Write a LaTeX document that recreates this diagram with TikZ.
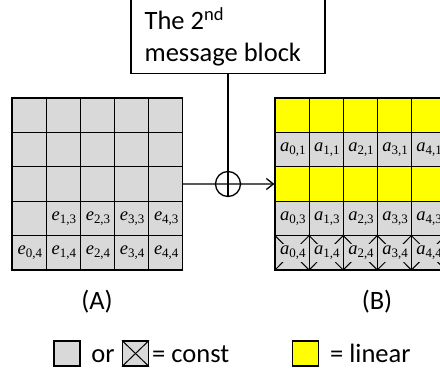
\documentclass[tikz,border=0pt]{standalone}
\usepackage{fontspec}
\setmainfont{Carlito}
\newfontfamily\cellfont{Liberation Serif}
\usepackage{tikz}
\usetikzlibrary{arrows.meta}

\definecolor{constgray}{HTML}{D9D9D9}
\definecolor{linyellow}{HTML}{FFFF00}

\newcommand{\elem}[2]{{\itshape #1}\textsubscript{#2}}

\tikzset{
  cell/.style={draw, line width=1.2pt, minimum width=34.1pt, minimum height=34.4pt, inner sep=0pt},
  elemlbl/.style={font=\cellfont\fontsize{18.5}{20}\selectfont, inner sep=0.5pt, xshift=1pt},
  bigtext/.style={font=\fontsize{26.5}{32}\selectfont, inner sep=0pt},
  keybox/.style={draw, line width=1.2pt, minimum width=26pt, minimum height=25pt, inner sep=0pt}
}

\begin{document}
\begin{tikzpicture}[x=1pt, y=-1pt]
            \def \cw {34.1}
            \def \ch {34.4}

            \useasboundingbox (0,0) rectangle (440,374);
            \clip (0,0) rectangle (440,374);

            % message block
            \node[draw, line width=1.2pt, minimum width=194pt, minimum height=100pt, anchor=south] (msg) at (228,74) {};
            \node[bigtext, align=left, anchor=south west] (msgtxt) at ([shift={(14,-8)}]msg.south west)
              {The 2\textsuperscript{nd}\\message block};

            % grid (A)
            \foreach \c in {0,...,4}
              \foreach \r in {0,...,4}
                \node[cell, fill=constgray] (A-\c-\r) at ({12+(\c+0.5)*\cw}, {98+(\r+0.5)*\ch}) {};
            \foreach \c in {1,...,4}
              \node[elemlbl] (e-\c-3) at (A-\c-3) {\elem{e}{\c,3}};
            \foreach \c in {0,...,4}
              \node[elemlbl] (e-\c-4) at (A-\c-4) {\elem{e}{\c,4}};

            % grid (B)
            \foreach \r/\fc in {0/linyellow, 1/constgray, 2/linyellow, 3/constgray, 4/constgray}
              \foreach \c in {0,...,4}
                \node[cell, fill=\fc] (B-\c-\r) at ({275+(\c+0.5)*\cw}, {98+(\r+0.5)*\ch}) {};
            \foreach \c in {0,...,4} {
              \draw[line width=1pt] (B-\c-4.north west) -- (B-\c-4.south east)
                (B-\c-4.north east) -- (B-\c-4.south west);
              \node[elemlbl] (a-\c-1) at (B-\c-1) {\elem{a}{\c,1}};
              \node[elemlbl] (a-\c-3) at (B-\c-3) {\elem{a}{\c,3}};
              \node[elemlbl, fill=constgray, minimum width=24pt, minimum height=18pt] (a-\c-4) at (B-\c-4) {\elem{a}{\c,4}};
            }

            % xor of message block and grid (A)
            \node[draw, circle, line width=1.3pt, minimum size=25pt, inner sep=0pt] (oplus) at (228,184) {};
            \draw[line width=1.3pt] (msg.south) -- (oplus.south);
            \draw[line width=1.3pt] (A-4-2.east) -- (oplus.east);
            \draw[line width=1.3pt, -{Straight Barb[length=7pt, width=11pt]}] (oplus.east) -- (B-0-2.west);

            \node[bigtext, anchor=base] (labA) at (97,310) {(A)};
            \node[bigtext, anchor=base] (labB) at (377,310) {(B)};

            % legend
            \node[keybox, fill=constgray] (key-const) at (67,353.5) {};
            \node[bigtext, anchor=base] (key-or) at (103,363) {or};
            \node[keybox, fill=constgray] (key-cross) at (135.5,353.5) {};
            \draw[line width=1pt] (key-cross.north west) -- (key-cross.south east)
              (key-cross.north east) -- (key-cross.south west);
            \node[bigtext, anchor=base west] (key-ctxt) at (152,363) {= const};
            \node[keybox, fill=linyellow] (key-lin) at (305.5,353.5) {};
            \node[bigtext, anchor=base west] (key-ltxt) at (330,363) {= linear};
          \end{tikzpicture}
\end{document}
